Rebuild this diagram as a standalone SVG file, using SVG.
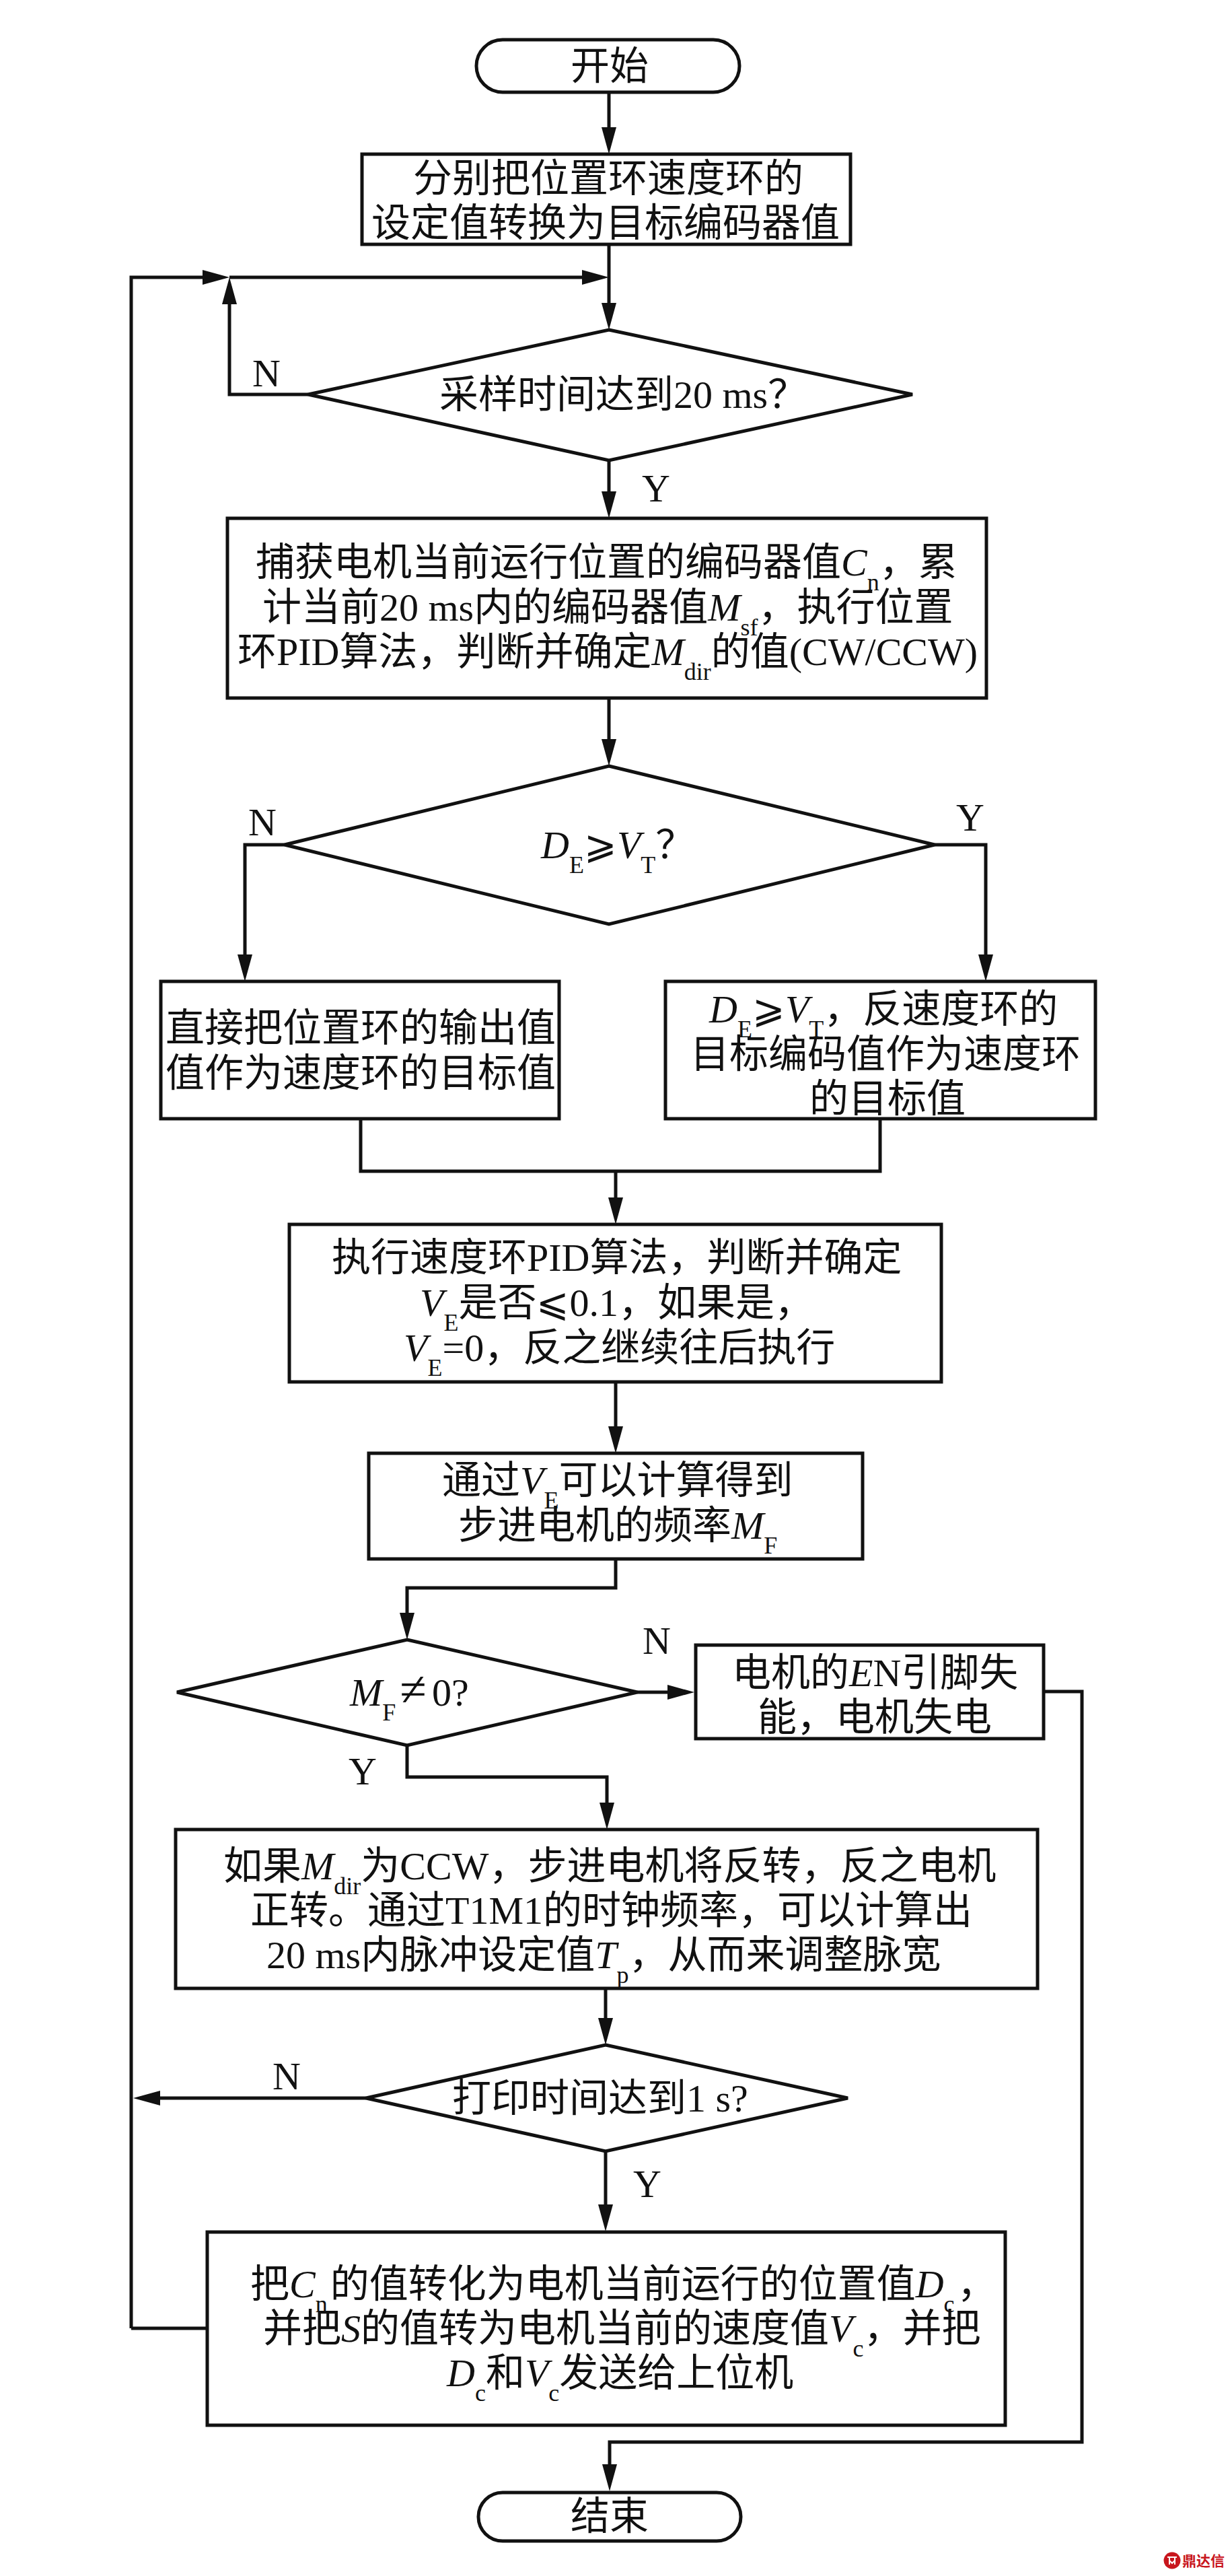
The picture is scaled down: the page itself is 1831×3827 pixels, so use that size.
<svg xmlns="http://www.w3.org/2000/svg" width="1831" height="3827" viewBox="0 0 1831 3827">
<style>
text{font-family:"Liberation Serif","Noto Sans CJK SC",serif;font-size:58px;fill:#111}
.n{fill:#fff;stroke:#111;stroke-width:5;stroke-linejoin:miter}
.c{fill:none;stroke:#111;stroke-width:5;stroke-linejoin:miter}
.s{font-size:36px}
.i{font-style:italic}
.m{text-anchor:middle}
.w{fill:none;stroke:#fff;stroke-width:2}
</style>
<defs><marker id="a" markerUnits="userSpaceOnUse" markerWidth="44" markerHeight="26" refX="20" refY="13" orient="auto"><path d="M0 2L40 13L0 24Z" fill="#111"/></marker></defs>
<g id="connectors">
<path class="c" d="M905 137V209" marker-end="url(#a)"/>
<path class="c" d="M905 363V470" marker-end="url(#a)"/>
<path class="c" d="M195 3459V412H321" marker-end="url(#a)"/>
<path class="c" d="M341 412H885" marker-end="url(#a)"/>
<path class="c" d="M458 586H341V432" marker-end="url(#a)"/>
<path class="c" d="M905 684V750" marker-end="url(#a)"/>
<path class="c" d="M905 1037V1118" marker-end="url(#a)"/>
<path class="c" d="M423 1255H364V1438" marker-end="url(#a)"/>
<path class="c" d="M1389 1255H1465V1438" marker-end="url(#a)"/>
<path class="c" d="M536 1662V1740H1308V1662"/>
<path class="c" d="M915 1740V1799" marker-end="url(#a)"/>
<path class="c" d="M915 2053V2139" marker-end="url(#a)"/>
<path class="c" d="M915 2316V2359H605V2416" marker-end="url(#a)"/>
<path class="c" d="M947 2514H1012" marker-end="url(#a)"/>
<path class="c" d="M605 2593V2640H902V2698" marker-end="url(#a)"/>
<path class="c" d="M900 2954V3018" marker-end="url(#a)"/>
<path class="c" d="M544 3117H218" marker-end="url(#a)"/>
<path class="c" d="M900 3196V3295" marker-end="url(#a)"/>
<path class="c" d="M308 3459H195"/>
<path class="c" d="M1551 2513H1608V3628H906V3681" marker-end="url(#a)"/>
</g>
<g id="start"><rect class="n" x="708" y="59" width="391" height="78" rx="39"/><text class="m" x="906" y="118">开始</text></g>
<g id="box1"><rect class="n" x="538" y="229" width="726" height="134"/><text x="614" y="285">分别把位置环速度环的</text><text x="552" y="351">设定值转换为目标编码器值</text></g>
<g id="d1"><path class="n" d="M905 490L1356 586L905 684L458 586Z"/><text x="653" y="606">采样时间达到20 ms？</text></g>
<text id="l1" class="m" x="396" y="574">N</text>
<text id="l2" class="m" x="975" y="745">Y</text>
<g id="box2"><rect class="n" x="338" y="770" width="1128" height="267"/>
<text x="380" y="855">捕获电机当前运行位置的编码器值<tspan class="i">C</tspan><tspan class="s" dy="22">n</tspan><tspan dy="-22">，累</tspan></text>
<text x="390" y="922">计当前20 ms内的编码器值<tspan class="i">M</tspan><tspan class="s" dy="22">sf</tspan><tspan dy="-22">，执行位置</tspan></text>
<text x="353" y="988">环PID算法，判断并确定<tspan class="i">M</tspan><tspan class="s" dy="22">dir</tspan><tspan dy="-22">的值(CW/CCW)</tspan></text></g>
<g id="d2"><path class="n" d="M905 1138L1389 1255L905 1373L423 1255Z"/><text x="804" y="1275"><tspan class="i">D</tspan><tspan class="s" dy="22">E</tspan><tspan dy="-22">⩾</tspan><tspan class="i">V</tspan><tspan class="s" dy="22">T</tspan><tspan dy="-22">？</tspan></text></g>
<text id="l3" class="m" x="390" y="1241">N</text>
<text id="l4" class="m" x="1442" y="1234">Y</text>
<g id="box3"><rect class="n" x="239" y="1458" width="592" height="204"/><text x="246" y="1547">直接把位置环的输出值</text><text x="246" y="1614">值作为速度环的目标值</text></g>
<g id="box4"><rect class="n" x="989" y="1458" width="639" height="204"/>
<text x="1054" y="1519"><tspan class="i">D</tspan><tspan class="s" dy="22">E</tspan><tspan dy="-22">⩾</tspan><tspan class="i">V</tspan><tspan class="s" dy="22">T</tspan><tspan dy="-22">，反速度环的</tspan></text>
<text x="1026" y="1586">目标编码值作为速度环</text><text x="1203" y="1652">的目标值</text></g>
<g id="box5"><rect class="n" x="430" y="1819" width="969" height="234"/>
<text x="493" y="1888">执行速度环PID算法，判断并确定</text>
<text x="624" y="1955"><tspan class="i">V</tspan><tspan class="s" dy="22">E</tspan><tspan dy="-22">是否⩽0.1，如果是，</tspan></text>
<text x="600" y="2022"><tspan class="i">V</tspan><tspan class="s" dy="22">E</tspan><tspan dy="-22">=0，反之继续往后执行</tspan></text></g>
<g id="box6"><rect class="n" x="548" y="2159" width="734" height="157"/>
<text x="657" y="2219">通过<tspan class="i">V</tspan><tspan class="s" dy="22">E</tspan><tspan dy="-22">可以计算得到</tspan></text>
<text x="681" y="2286">步进电机的频率<tspan class="i">M</tspan><tspan class="s" dy="22">F</tspan></text></g>
<g id="d3"><path class="n" d="M605 2436L947 2514L605 2593L263 2514Z"/><text x="520" y="2534"><tspan class="i">M</tspan><tspan class="s" dy="22">F</tspan><tspan dy="-22" dx="6" style="font-size:72px">≠</tspan><tspan dx="8">0?</tspan></text></g>
<text id="l5" class="m" x="976" y="2457">N</text>
<text id="l6" class="m" x="539" y="2651">Y</text>
<g id="box7"><rect class="n" x="1034" y="2444" width="517" height="139"/>
<text x="1088" y="2505">电机的<tspan class="i">E</tspan>N引脚失</text><text x="1126" y="2571">能，电机失电</text></g>
<g id="box8"><rect class="n" x="261" y="2718" width="1281" height="236"/>
<text x="332" y="2792">如果<tspan class="i">M</tspan><tspan class="s" dy="22">dir</tspan><tspan dy="-22">为CCW，步进电机将反转，反之电机</tspan></text>
<text x="372" y="2858">正转。通过T1M1的时钟频率，可以计算出</text>
<text x="396" y="2924">20 ms内脉冲设定值<tspan class="i">T</tspan><tspan class="s" dy="22">p</tspan><tspan dy="-22">，从而来调整脉宽</tspan></text></g>
<g id="d4"><path class="n" d="M900 3038L1260 3117L900 3196L544 3117Z"/><text x="672" y="3137">打印时间达到1 s?</text></g>
<text id="l7" class="m" x="426" y="3104">N</text>
<text id="l8" class="m" x="962" y="3264">Y</text>
<g id="box9"><rect class="n" x="308" y="3316" width="1186" height="287"/>
<text x="372" y="3413">把<tspan class="i">C</tspan><tspan class="s" dy="22">n</tspan><tspan dy="-22" dx="4">的值转化为电机当前运行的位置值</tspan><tspan class="i">D</tspan><tspan class="s" dy="22">c</tspan><tspan dy="-22" dx="4">，</tspan></text>
<text x="391" y="3479">并把<tspan class="i">S</tspan>的值转为电机当前的速度值<tspan class="i">V</tspan><tspan class="s" dy="22">c</tspan><tspan dy="-22">，并把</tspan></text>
<text x="664" y="3545"><tspan class="i">D</tspan><tspan class="s" dy="22">c</tspan><tspan dy="-22">和</tspan><tspan class="i">V</tspan><tspan class="s" dy="22">c</tspan><tspan dy="-22">发送给上位机</tspan></text></g>
<g id="end"><rect class="n" x="711" y="3703" width="390" height="72" rx="36"/><text class="m" x="906" y="3758">结束</text></g>
<g id="watermark"><circle cx="1742" cy="3804" r="12.5" fill="#c8161d"/><path class="w" d="M1735 3799H1749M1738 3799V3810M1746 3799V3810M1738 3804L1742 3808L1746 3804"/><text x="1757" y="3812" style="font-size:21px;font-weight:700;fill:#c8161d;font-family:'Noto Sans CJK SC',sans-serif">鼎达信</text></g>
</svg>
